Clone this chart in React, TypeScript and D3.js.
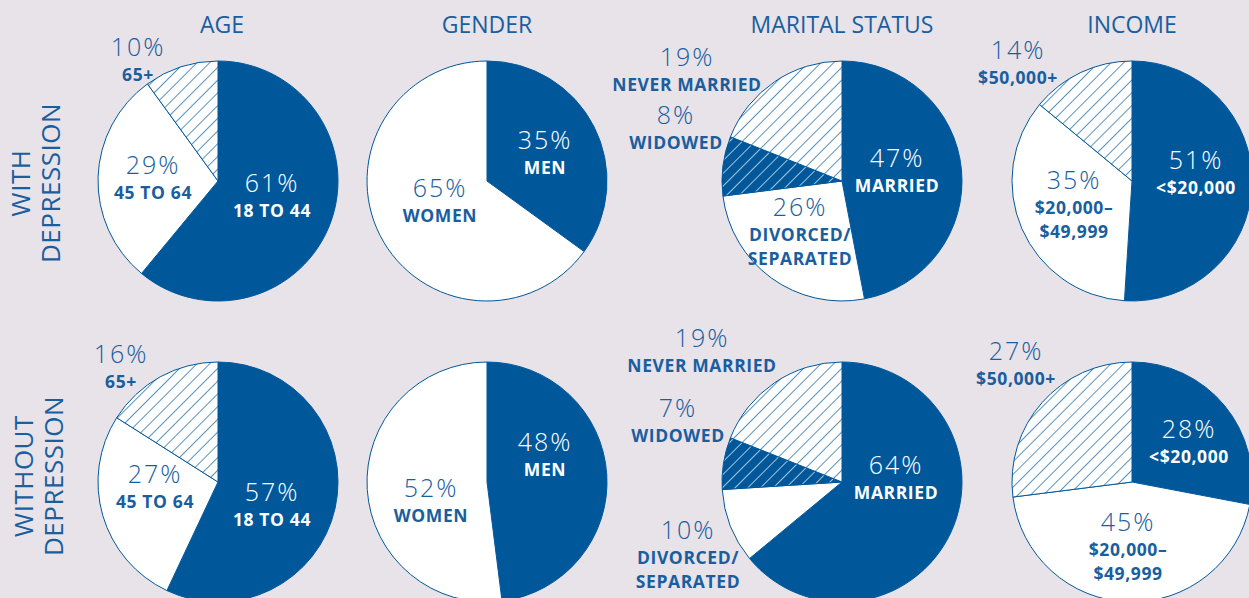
import React from "react";
import * as d3 from "d3";

const rowLabels = [["WITH", "DEPRESSION"], ["WITHOUT", "DEPRESSION"]];
const titles = ["AGE", "GENDER", "MARITAL STATUS", "INCOME"];

const ageCategories = ["18 TO 44", "45 TO 64", "65+"];
const ageWith = [61, 29, 10];
const ageWithout = [57, 27, 16];

const genderCategories = ["MEN", "WOMEN"];
const genderWith = [35, 65];
const genderWithout = [48, 52];

const maritalCategories = ["MARRIED", "DIVORCED/\nSEPARATED", "WIDOWED", "NEVER MARRIED"];
const maritalWith = [47, 26, 8, 19];
const maritalWithout = [64, 10, 7, 19];

const incomeCategories = ["<$20,000", "$20,000–\n$49,999", "$50,000+"];
const incomeWith = [51, 35, 14];
const incomeWithout = [28, 45, 27];

// fill style per slice: d = dark, w = white, h = hatched, dh = dark hatched
const groups = [
  { cats: ageCategories, rows: [ageWith, ageWithout], styles: ["d", "w", "h"] },
  { cats: genderCategories, rows: [genderWith, genderWithout], styles: ["d", "w"] },
  { cats: maritalCategories, rows: [maritalWith, maritalWithout], styles: ["d", "w", "dh", "h"] },
  { cats: incomeCategories, rows: [incomeWith, incomeWithout], styles: ["d", "w", "h"] },
];

// layout
const W = 1249;
const H = 598;
const colX = [218, 487, 842, 1132];
const rowY = [181, 482];
const R = 120;
const BG = "#e8e2e9";
const DARK = "#00589b";
const TEXT = "#195e9e";

// label anchor offsets from pie centre [row][col][slice]
const labelOffsets = [
  [
    [[54, 2], [-65, -16], [-80, -134]],
    [[58, -41], [-47, 7]],
    [[55, -23], [-42, 26], [-166, -66], [-155, -124]],
    [[64, -21], [-58, -1], [-114, -131]],
  ],
  [
    [[54, 10], [-63, -8], [-97, -128]],
    [[58, -40], [-56, 6]],
    [[54, -17], [-154, 48], [-164, -74], [-140, -144]],
    [[57, -53], [-4, 40], [-116, -131]],
  ],
];

const FONT = "'Open Sans', 'Noto Sans', sans-serif";

export default function App() {
  const pie = d3.pie<number>().sort(null).value((d) => d);
  const arc = d3.arc<d3.PieArcDatum<number>>().innerRadius(0).outerRadius(R);

  const fillFor = (s: string) =>
    s === "d" ? DARK : s === "w" ? "#fff" : s === "h" ? "url(#hatch)" : "url(#darkHatch)";

  return (
    <svg width={W} height={H} style={{ position: "absolute", left: 0, top: 0 }}>
      <defs>
        <pattern id="hatch" patternUnits="userSpaceOnUse" width={9} height={9} patternTransform="rotate(45)">
          <rect width={9} height={9} fill="#fff" />
          <line x1={0} y1={0} x2={0} y2={9} stroke={DARK} strokeWidth={1.3} />
        </pattern>
        <pattern id="darkHatch" patternUnits="userSpaceOnUse" width={9} height={9} patternTransform="rotate(45)">
          <rect width={9} height={9} fill={DARK} />
          <line x1={0} y1={0} x2={0} y2={9} stroke="#fff" strokeWidth={1.3} />
        </pattern>
      </defs>
      <rect width={W} height={H} fill={BG} />

      {titles.map((t, c) => (
        <text key={t} x={colX[c] + (c === 0 ? 4 : 0)} y={33} textAnchor="middle" fontFamily={FONT}
          fontSize={23} fill={TEXT}>
          {t}
        </text>
      ))}

      {rowLabels.map((lines, r) =>
        lines.map((ln, i) => (
          <text key={r + ln + i} transform={`translate(${[30, 60][i] + (r === 1 ? 3 : 0)},${rowY[r] + (r === 1 ? -6 : 2)}) rotate(-90)`}
            textAnchor="middle" fontFamily={FONT} fontSize={26} fontWeight={500} fill={TEXT} letterSpacing={0.5}>
            {ln}
          </text>
        ))
      )}

      {groups.map((g, c) =>
        g.rows.map((vals, r) => {
          const arcs = pie(vals);
          return (
            <g key={`${c}-${r}`} transform={`translate(${colX[c]},${rowY[r]})`}>
              {arcs.map((a, i) => (
                <path key={i} d={arc(a) || ""} fill={fillFor(g.styles[i])} stroke={DARK} strokeWidth={1} />
              ))}
              {arcs.map((a, i) => {
                const [dx, dy] = labelOffsets[r][c][i];
                const onDark = g.styles[i] === "d";
                const col = onDark ? "#fff" : TEXT;
                const lines = g.cats[i].split("\n");
                return (
                  <g key={"l" + i} transform={`translate(${dx},${dy})`}>
                    <text y={9} textAnchor="middle" fontFamily={FONT} fontSize={25} fontWeight={300}
                      letterSpacing={2} fill={col}>
                      {vals[i]}%
                    </text>
                    {lines.map((ln, k) => (
                      <text key={k} y={34 + k * 24} textAnchor="middle" fontFamily={FONT} fontSize={17.5}
                        fontWeight={700} letterSpacing={0.6} fill={col}>
                        {ln}
                      </text>
                    ))}
                  </g>
                );
              })}
            </g>
          );
        })
      )}
    </svg>
  );
}
